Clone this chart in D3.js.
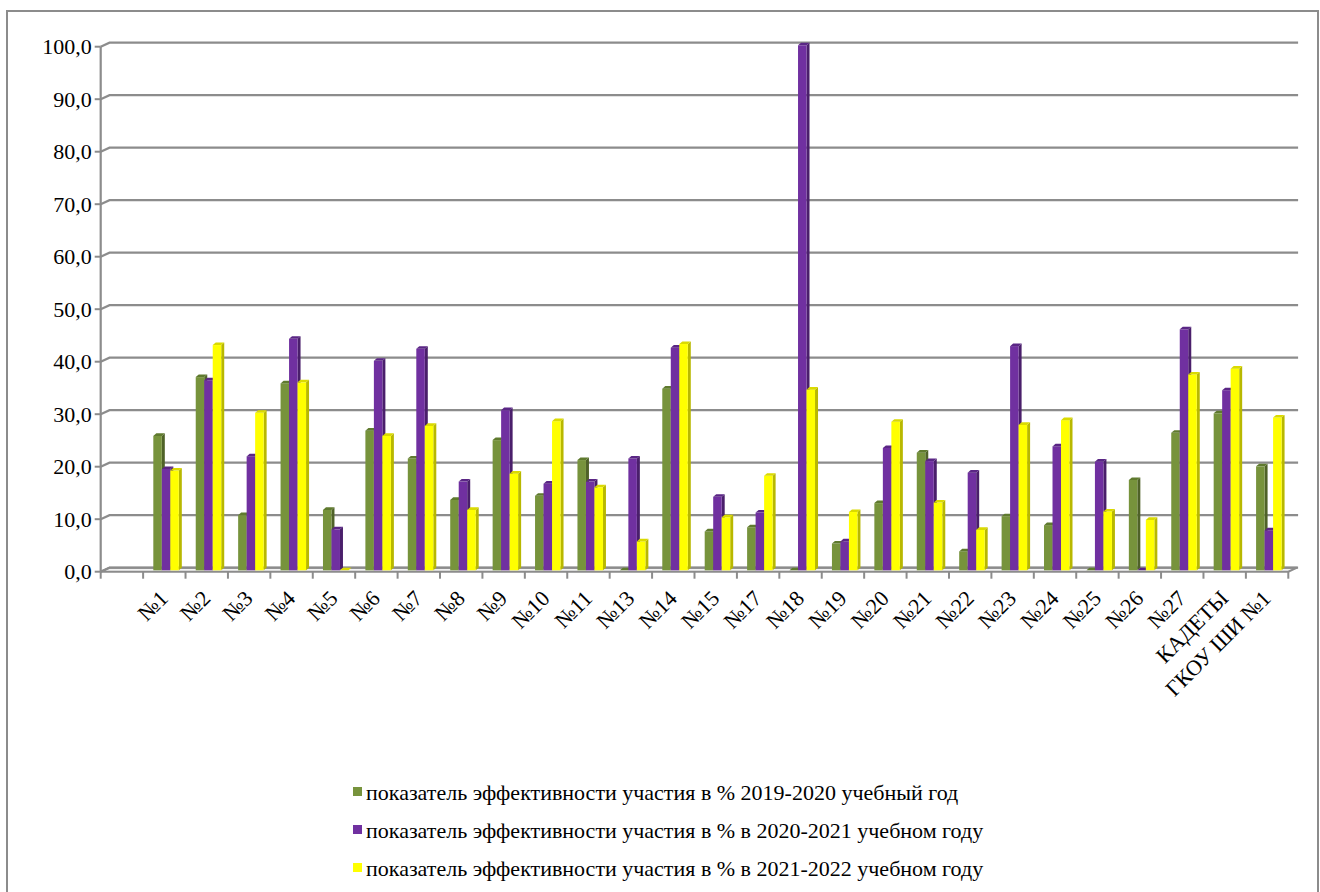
<!DOCTYPE html>
<html>
<head>
<meta charset="utf-8">
<script src="https://cdn.jsdelivr.net/npm/d3@7"></script>
<style>
  html, body { margin: 0; padding: 0; background: #fff; }
  svg { display: block; }
  text { font-family: "Liberation Serif", "DejaVu Serif", serif; fill: #000; }
</style>
</head>
<body>
<svg id="chart" width="1320" height="892"></svg>
<script>
// first category is empty in the source chart
const categories = ["", "№1", "№2", "№3", "№4", "№5", "№6", "№7", "№8", "№9", "№10", "№11",
  "№13", "№14", "№15", "№17", "№18", "№19", "№20", "№21", "№22", "№23", "№24", "№25",
  "№26", "№27", "КАДЕТЫ", "ГКОУ ШИ №1"];

const values2019 = [null, 25.6, 36.8, 10.5, 35.6, 11.5, 26.6, 21.3, 13.4, 24.8, 14.2, 21.0,
  0, 34.6, 7.4, 8.2, 0, 5.1, 12.8, 22.4, 3.6, 10.3, 8.6, 0, 17.2, 26.2, 29.9, 19.8];
const values2020 = [null, 19.3, 36.2, 21.7, 44.1, 7.8, 39.9, 42.2, 16.9, 30.5, 16.5, 16.9,
  21.3, 42.4, 14.0, 11.0, 100, 5.5, 23.3, 20.8, 18.6, 42.7, 23.6, 20.7, 0, 45.9, 34.3, 7.6];
const values2021 = [null, 19.0, 42.9, 30.0, 35.8, 0, 25.6, 27.5, 11.5, 18.4, 28.4, 15.8,
  5.5, 43.1, 10.1, 18.0, 34.4, 11.1, 28.3, 12.9, 7.7, 27.7, 28.6, 11.2, 9.6, 37.3, 38.4, 29.1];

const seriesNames = [
  "показатель эффективности участия в % 2019-2020 учебный год",
  "показатель эффективности участия в % в 2020-2021 учебном году",
  "показатель эффективности участия в % в 2021-2022 учебном году"
];
const yTicks = [0, 10, 20, 30, 40, 50, 60, 70, 80, 90, 100];

const series = [values2019, values2020, values2021];
const colors = [
  { front: "#77933C", side: "#4F6228", top: "#5F7A2E" },
  { front: "#7030A0", side: "#4A1F6B", top: "#5A2685" },
  { front: "#FFFF00", side: "#B8B800", top: "#DADA00" }
];
const FONT = "'Liberation Serif', 'DejaVu Serif', serif";

const svg = d3.select("#chart");

// outer frame
svg.append("rect")
  .attr("x", 7).attr("y", 11).attr("width", 1311).attr("height", 900)
  .attr("fill", "none").attr("stroke", "#8c8c8c").attr("stroke-width", 2);

// 3D geometry: front plane and back wall offset
const frontLeft = 100.7, frontRight = 1288.3;
const depthX = 8.8, depthY = -4;

const x = d3.scaleBand().domain(categories).range([frontLeft, frontRight]).padding(0);
const yBack = d3.scaleLinear().domain([0, 100]).range([567.7, 42.7]);
const yFront = v => yBack(v) - depthY;

const grid = svg.append("g");

// floor
const floorPts = [
  [frontLeft, yFront(0)], [frontLeft + depthX, yBack(0)],
  [frontRight + depthX, yBack(0)], [frontRight, yFront(0)]
];
grid.append("polygon")
  .attr("points", floorPts.map(p => p.join(",")).join(" "))
  .attr("fill", "#f2f2f2").attr("stroke", "#8c8c8c").attr("stroke-width", 2);

// gridlines on the back wall, with the left wall diagonals
yTicks.forEach(t => {
  grid.append("path")
    .attr("d", `M${frontLeft},${yFront(t)}L${frontLeft + depthX},${yBack(t)}L${frontRight + depthX + 1},${yBack(t)}`)
    .attr("fill", "none")
    .attr("stroke", "#8c8c8c")
    .attr("stroke-width", 2.2);
});

// y axis
const yAxis = svg.append("g");
yAxis.append("line")
  .attr("x1", frontLeft).attr("x2", frontLeft)
  .attr("y1", yFront(100)).attr("y2", yFront(0))
  .attr("stroke", "#8c8c8c").attr("stroke-width", 2.2);
yTicks.forEach(t => {
  yAxis.append("line")
    .attr("x1", frontLeft - 6).attr("x2", frontLeft)
    .attr("y1", yFront(t)).attr("y2", yFront(t))
    .attr("stroke", "#8c8c8c").attr("stroke-width", 2);
  yAxis.append("text")
    .attr("x", frontLeft - 9).attr("y", yFront(t))
    .attr("dy", "0.35em")
    .attr("text-anchor", "end")
    .attr("font-family", FONT)
    .attr("font-size", 22)
    .text(d3.format(".1f")(t).replace(".", ","));
});

// x ticks
const xAxis = svg.append("g");
const bounds = categories.map(c => x(c)).concat([frontRight]);
bounds.forEach(bx => {
  xAxis.append("line")
    .attr("x1", bx).attr("x2", bx)
    .attr("y1", yFront(0)).attr("y2", yFront(0) + 7)
    .attr("stroke", "#8c8c8c").attr("stroke-width", 2);
});
categories.forEach(c => {
  if (!c) return;
  const cx = x(c) + x.bandwidth() / 2 + 5;
  xAxis.append("text")
    .attr("transform", `translate(${cx},${yFront(0) + 28}) rotate(-45)`)
    .attr("text-anchor", "end")
    .attr("font-family", FONT)
    .attr("font-size", 22)
    .text(c);
});

// bars
const bw = 8.5, bd = 3, bdy = 2.6;
const groupOffset = 10.2;
const yBar = v => yBack(v) + 2.6;
const bars = svg.append("g");
categories.forEach((c, i) => {
  if (!c) return;
  series.forEach((vals, s) => {
    const v = vals[i];
    if (v == null) return;
    const x0 = x(c) + groupOffset + s * bw;
    const top = yBar(v), base = yBar(0);
    const col = colors[s];
    if (v > 0) {
      bars.append("polygon")
        .attr("points", [[x0 + bw, top], [x0 + bw + bd, top - bdy], [x0 + bw + bd, base - bdy], [x0 + bw, base]].map(p => p.join(",")).join(" "))
        .attr("fill", col.side);
      bars.append("rect")
        .attr("x", x0).attr("y", top)
        .attr("width", bw).attr("height", base - top)
        .attr("fill", col.front);
    }
    bars.append("polygon")
      .attr("points", [[x0, top], [x0 + bd, top - bdy], [x0 + bw + bd, top - bdy], [x0 + bw, top]].map(p => p.join(",")).join(" "))
      .attr("fill", col.top);
  });
});

// legend
const legend = svg.append("g");
seriesNames.forEach((name, s) => {
  const ly = 792 + s * 38;
  legend.append("rect")
    .attr("x", 353).attr("y", ly - 5)
    .attr("width", 9).attr("height", 9)
    .attr("fill", colors[s].front);
  legend.append("text")
    .attr("x", 366).attr("y", ly)
    .attr("dy", "0.35em")
    .attr("font-family", FONT)
    .attr("font-size", 22)
    .text(name);
});
</script>
</body>
</html>
